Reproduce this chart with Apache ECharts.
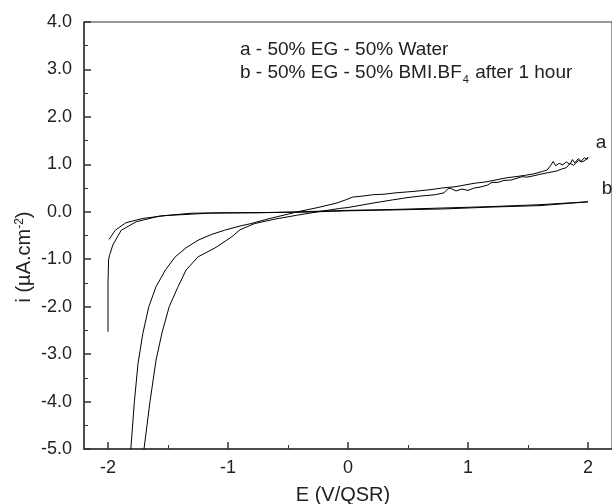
<!DOCTYPE html>
<html>
<head>
<meta charset="utf-8">
<script src="https://cdn.jsdelivr.net/npm/echarts@6/dist/echarts.min.js"></script>
<style>html,body{margin:0;padding:0;background:#fff}#c{width:612px;height:504px}</style>
</head>
<body>
<div id="c"></div>
<script>
// Curve a: 50% EG - 50% Water (path order)
var aX = [-1.81,-1.78,-1.75,-1.71,-1.66,-1.60,-1.52,-1.44,-1.35,-1.25,-1.14,-1.03,-0.90,-0.81,-0.65,-0.50,-0.42,-0.25,-0.10,-0.02,0.04,0.12,0.21,0.30,0.40,0.55,0.70,0.78,0.90,1.05,1.15,1.25,1.33,1.40,1.48,1.55,1.62,1.66,1.69,1.71,1.73,1.76,1.79,1.82,1.85,1.87,1.89,1.92,1.94,1.97,1.99,2.00,
  1.98,1.95,1.92,1.88,1.85,1.82,1.78,1.74,1.70,1.66,1.60,1.55,1.49,1.45,1.40,1.36,1.30,1.25,1.20,1.16,1.10,1.05,1.00,0.95,0.90,0.85,0.83,0.80,0.73,0.60,0.50,0.37,0.20,0.00,-0.07,-0.20,-0.42,-0.60,-0.78,-0.90,-0.97,-1.10,-1.25,-1.35,-1.42,-1.49,-1.55,-1.60,-1.65,-1.70];
var aY = [-5.00,-4.00,-3.20,-2.57,-2.00,-1.58,-1.22,-0.95,-0.76,-0.60,-0.48,-0.39,-0.30,-0.25,-0.14,-0.05,0.00,0.09,0.18,0.25,0.31,0.33,0.36,0.37,0.40,0.43,0.47,0.50,0.53,0.60,0.63,0.68,0.72,0.74,0.77,0.80,0.85,0.88,0.98,1.06,0.97,1.02,0.99,1.05,1.00,1.10,1.03,1.12,1.06,1.14,1.10,1.15,
  1.09,1.05,1.08,0.98,1.02,0.93,0.90,0.86,0.84,0.82,0.79,0.76,0.73,0.74,0.70,0.67,0.66,0.62,0.62,0.56,0.52,0.50,0.45,0.48,0.44,0.50,0.48,0.40,0.36,0.33,0.30,0.25,0.18,0.09,0.07,0.02,-0.07,-0.15,-0.25,-0.38,-0.53,-0.75,-0.95,-1.23,-1.60,-2.00,-2.55,-3.13,-4.00,-5.00];
// Curve b: 50% EG - 50% BMI.BF4 after 1 hour (path order)
var bX = [-2.00,-2.00,-2.00,-1.995,-1.985,-1.96,-1.89,-1.765,-1.57,-1.30,-1.00,-0.75,-0.40,0.00,0.40,0.80,1.20,1.60,2.00,
  2.00,1.60,1.20,0.80,0.40,0.00,-0.40,-0.80,-1.16,-1.52,-1.71,-1.85,-1.94,-1.99];
var bY = [-2.53,-2.00,-1.50,-1.00,-0.90,-0.70,-0.39,-0.21,-0.09,-0.03,-0.02,-0.02,0.00,0.03,0.05,0.08,0.11,0.15,0.21,
  0.20,0.13,0.10,0.06,0.04,0.02,-0.01,-0.02,-0.03,-0.08,-0.14,-0.23,-0.39,-0.58];
var xMajor = [-2,-1,0,1,2];
var xMinor = [-1.5,-0.5,0.5,1.5];

function pairs(xs, ys){ return xs.map(function(x,i){return [x, ys[i]];}); }
var FF = '"Liberation Sans", Arial, Helvetica, sans-serif';
var chart = echarts.init(document.getElementById('c'), null, {renderer:'canvas'});
chart.setOption({
  animation: false,
  backgroundColor: '#fff',
  grid: {left: 84, top: 22, width: 536, height: 427, show: true, borderColor: '#333', borderWidth: 1},
  xAxis: [{
    type: 'value', min: -2.2, max: 2.2, position: 'bottom',
    axisLine: {show: true, onZero: false, lineStyle: {color: '#333', width: 1.5}},
    axisTick: {show: true, inside: true, length: 7, customValues: xMajor, lineStyle: {color: '#333', width: 1.5}},
    axisLabel: {customValues: xMajor, margin: 10, fontSize: 18, color: '#222', fontFamily: FF},
    splitLine: {show: false}
  }, {
    type: 'value', min: -2.2, max: 2.2, position: 'top', offset: -427,
    axisLine: {show: false},
    axisTick: {show: true, inside: false, length: 4, customValues: xMinor, lineStyle: {color: '#333', width: 1}},
    axisLabel: {show: false},
    splitLine: {show: false}
  }],
  yAxis: {
    type: 'value', min: -5, max: 4, interval: 1,
    axisLine: {show: true, onZero: false, lineStyle: {color: '#333', width: 1.5}},
    axisTick: {show: true, inside: true, length: 7, lineStyle: {color: '#333', width: 1.5}},
    minorTick: {show: true, splitNumber: 2, length: 4, lineStyle: {color: '#333', width: 1}},
    axisLabel: {margin: 12, fontSize: 18, color: '#222', fontFamily: FF, formatter: function(v){return v.toFixed(1);}},
    splitLine: {show: false}
  },
  series: [
    {type: 'line', data: pairs(aX, aY), showSymbol: false, lineStyle: {color: '#000', width: 1}, clip: true},
    {type: 'line', data: pairs(bX, bY), showSymbol: false, lineStyle: {color: '#000', width: 1}, clip: true}
  ],
  graphic: [
    {type: 'text', x: 240, y: 50, style: {text: 'a - 50% EG - 50% Water', font: '19px ' + FF, fill: '#222', verticalAlign: 'middle'}},
    {type: 'text', x: 240, y: 73, style: {
      text: '{t|b - 50% EG - 50% BMI.BF}{s|4}{t| after 1 hour}', verticalAlign: 'middle', fill: '#222',
      rich: {t: {fontSize: 19, fontFamily: FF, fill: '#222'}, s: {fontSize: 11, fontFamily: FF, fill: '#222', verticalAlign: 'bottom', padding: [14, 1, 0, 1]}}}},
    {type: 'text', x: 601, y: 143, style: {text: 'a', font: '19px ' + FF, fill: '#222', align: 'center', verticalAlign: 'middle'}},
    {type: 'text', x: 607, y: 189, style: {text: 'b', font: '19px ' + FF, fill: '#222', align: 'center', verticalAlign: 'middle'}},
    {type: 'text', x: 343, y: 495, style: {text: 'E (V/QSR)', font: '20px ' + FF, fill: '#222', align: 'center', verticalAlign: 'middle'}},
    {type: 'text', x: 24, y: 257, rotation: Math.PI / 2, style: {
      text: '{t|i (µA.cm}{s|-2}{t|)}', align: 'center', verticalAlign: 'middle', fill: '#222',
      rich: {t: {fontSize: 20, fontFamily: FF, fill: '#222'}, s: {fontSize: 12, fontFamily: FF, fill: '#222', verticalAlign: 'top'}}}}
  ]
});
</script>
</body>
</html>
